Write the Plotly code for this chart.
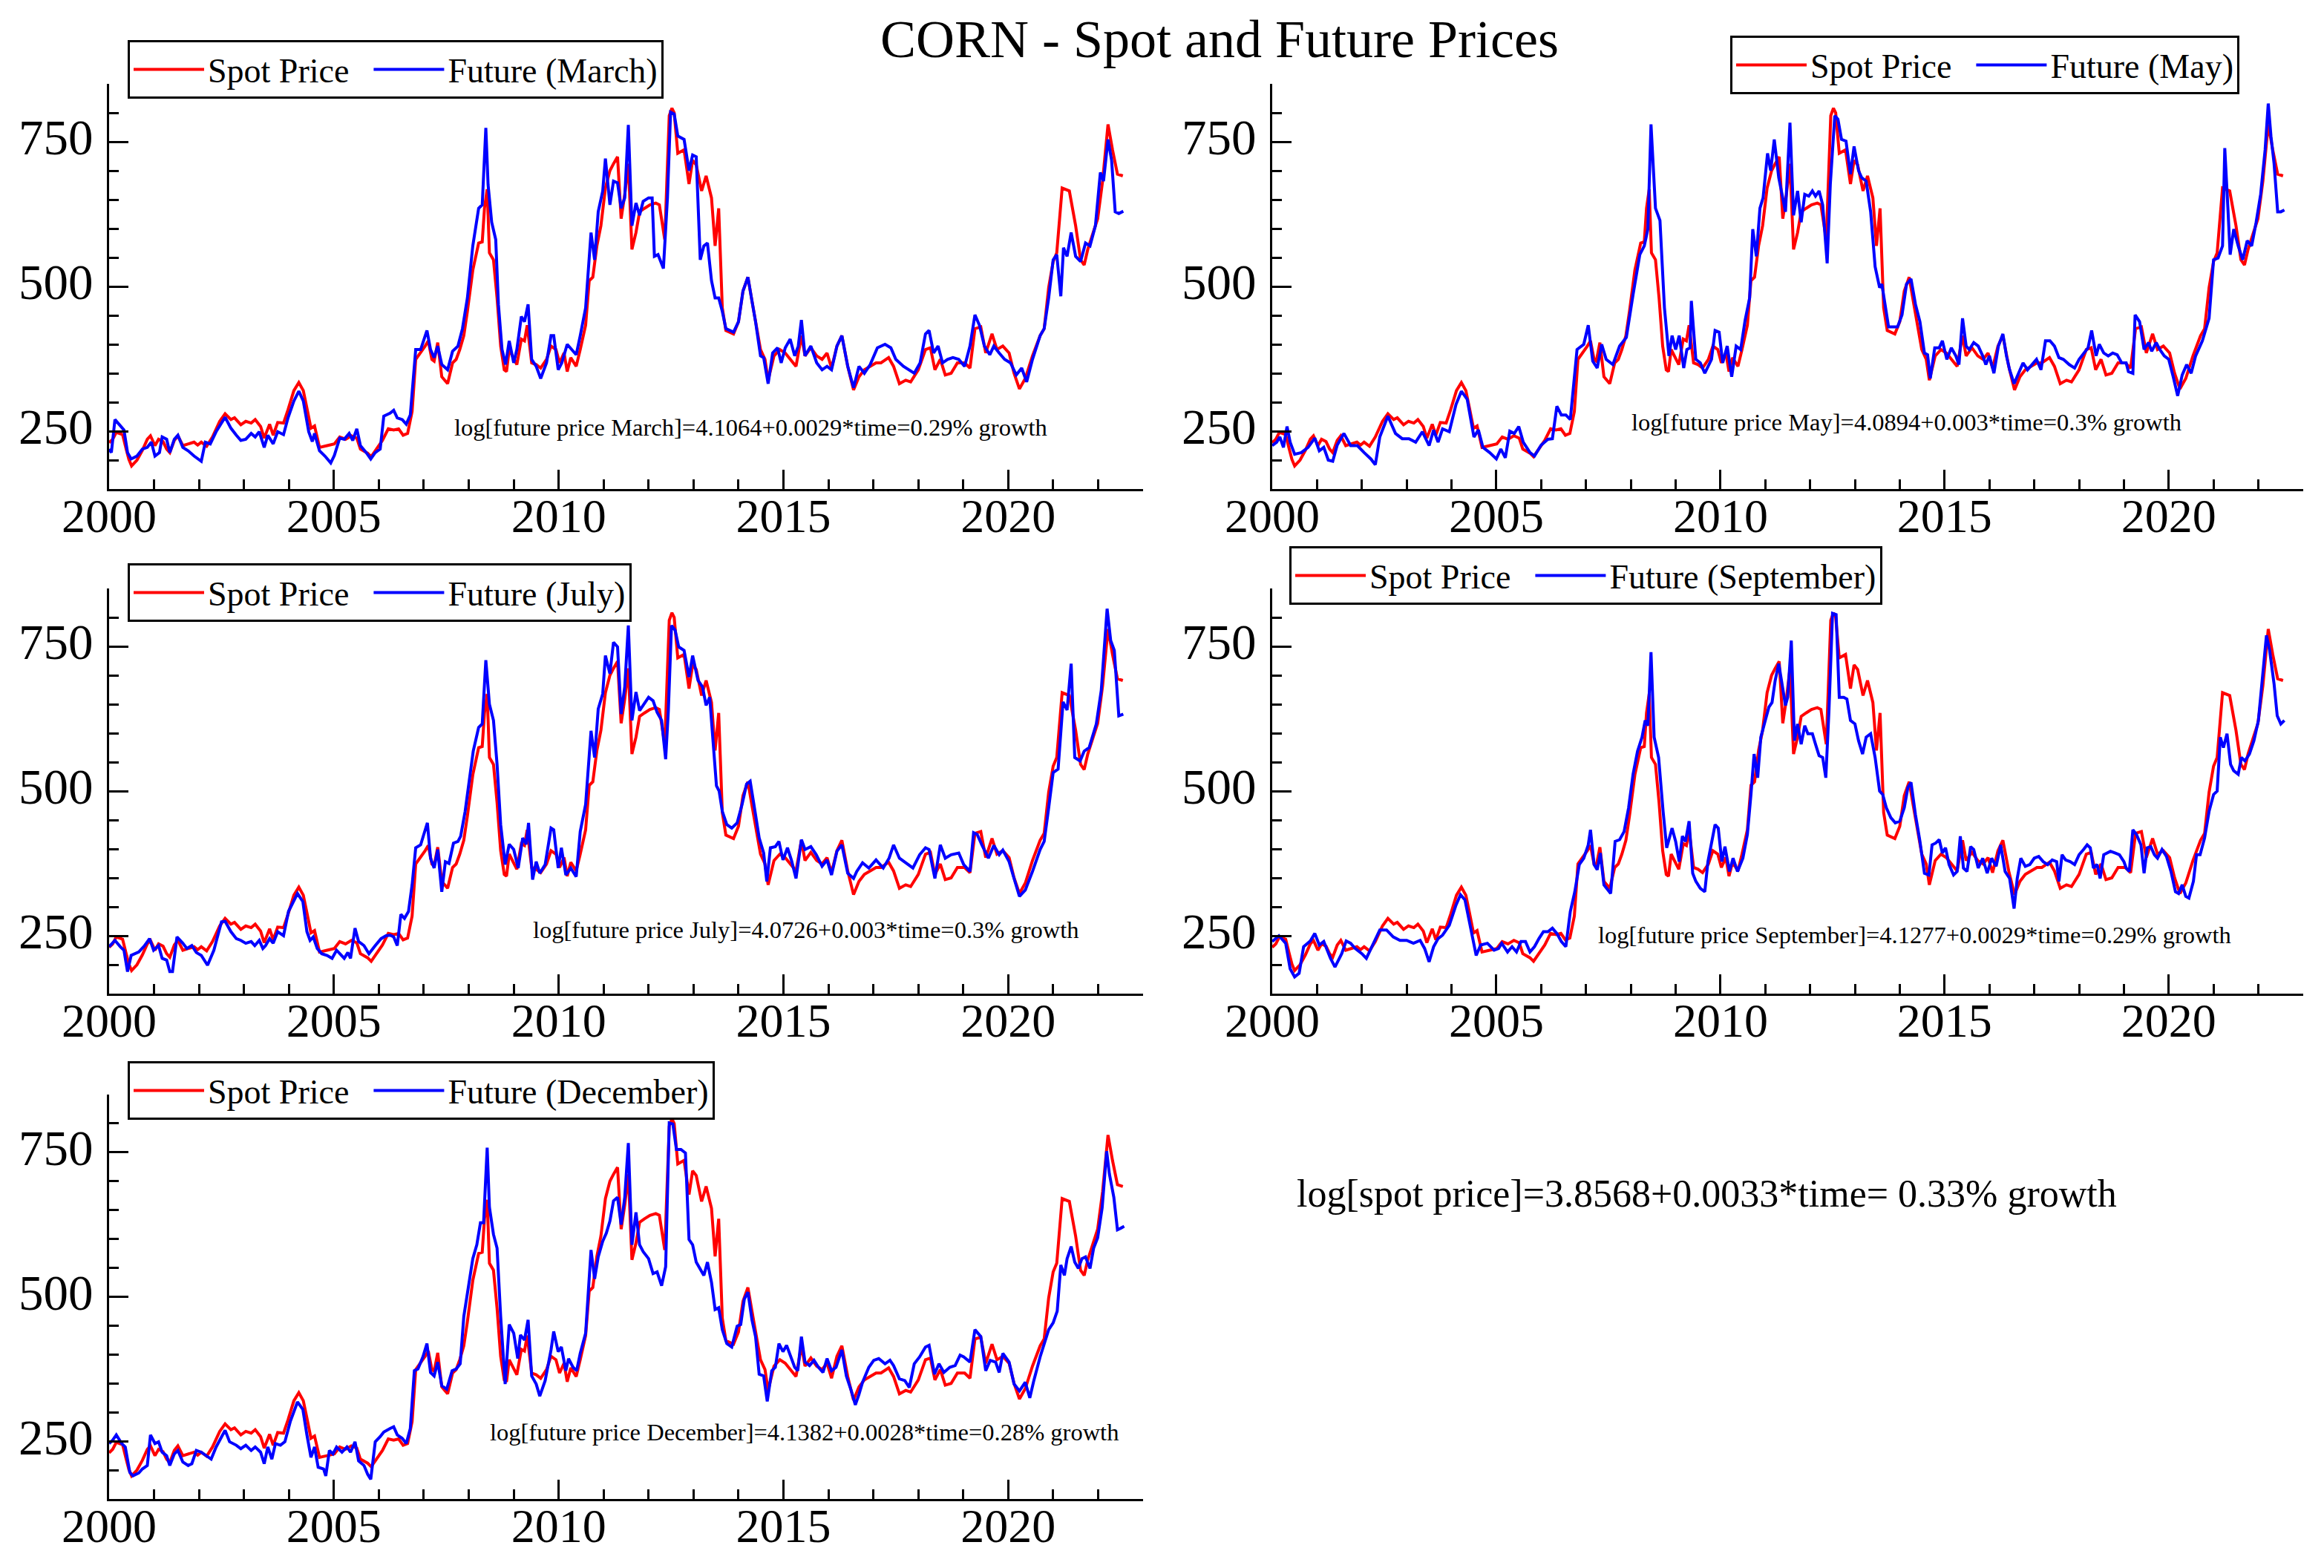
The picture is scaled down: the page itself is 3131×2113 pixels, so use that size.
import plotly.graph_objects as go
from plotly.subplots import make_subplots

FONT = "Liberation Serif"
RED = "#ff0000"
BLUE = "#0000ff"
W, H = 3131, 2113

# (decimal year, price)
spot = [
    (2000.00, 230), (2000.08, 236), (2000.16, 248), (2000.30, 244), (2000.38, 219), (2000.44, 201),
    (2000.50, 190), (2000.62, 200), (2000.74, 217), (2000.85, 236), (2000.92, 242), (2001.02, 225),
    (2001.10, 236), (2001.20, 232), (2001.28, 219), (2001.35, 213), (2001.45, 234), (2001.53, 242),
    (2001.64, 225), (2001.77, 228), (2001.89, 231), (2001.97, 226), (2002.05, 231), (2002.17, 224),
    (2002.30, 240), (2002.46, 267), (2002.58, 280), (2002.71, 270), (2002.79, 273), (2002.93, 261),
    (2003.04, 267), (2003.16, 264), (2003.25, 270), (2003.37, 258), (2003.45, 238), (2003.57, 262),
    (2003.65, 243), (2003.75, 265), (2003.88, 264), (2003.98, 287), (2004.11, 320), (2004.22, 334),
    (2004.32, 320), (2004.40, 290), (2004.49, 255), (2004.57, 259), (2004.68, 222), (2004.85, 225),
    (2005.01, 228), (2005.13, 240), (2005.26, 236), (2005.39, 242), (2005.51, 238), (2005.59, 219),
    (2005.75, 212), (2005.83, 206), (2005.97, 222), (2006.08, 234), (2006.21, 254), (2006.33, 252),
    (2006.44, 254), (2006.54, 243), (2006.64, 246), (2006.74, 284), (2006.82, 374), (2006.90, 382),
    (2007.03, 397), (2007.10, 406), (2007.18, 374), (2007.23, 371), (2007.31, 403), (2007.40, 344),
    (2007.53, 332), (2007.64, 368), (2007.72, 374), (2007.80, 391), (2007.89, 415), (2007.97, 457),
    (2008.09, 528), (2008.22, 575), (2008.30, 577), (2008.35, 635), (2008.41, 668), (2008.46, 558),
    (2008.55, 546), (2008.63, 480), (2008.71, 397), (2008.79, 356), (2008.84, 353), (2008.90, 391),
    (2009.00, 374), (2009.07, 365), (2009.17, 409), (2009.24, 406), (2009.30, 433), (2009.40, 368),
    (2009.50, 365), (2009.60, 359), (2009.73, 374), (2009.83, 397), (2009.94, 391), (2010.02, 368),
    (2010.12, 385), (2010.19, 353), (2010.27, 377), (2010.39, 362), (2010.48, 391), (2010.60, 433),
    (2010.68, 510), (2010.76, 516), (2010.85, 570), (2010.94, 605), (2011.04, 670), (2011.14, 700),
    (2011.22, 712), (2011.31, 724), (2011.39, 617), (2011.47, 659), (2011.55, 712), (2011.63, 564),
    (2011.72, 593), (2011.80, 629), (2011.91, 635), (2012.03, 641), (2012.16, 644), (2012.24, 641),
    (2012.36, 581), (2012.46, 795), (2012.52, 808), (2012.57, 800), (2012.65, 730), (2012.79, 736),
    (2012.90, 677), (2012.98, 718), (2013.06, 710), (2013.18, 665), (2013.28, 691), (2013.40, 653),
    (2013.48, 570), (2013.56, 635), (2013.64, 463), (2013.72, 424), (2013.89, 418), (2014.00, 439),
    (2014.10, 492), (2014.21, 516), (2014.30, 475), (2014.38, 439), (2014.49, 391), (2014.59, 374),
    (2014.66, 338), (2014.79, 380), (2014.92, 391), (2015.04, 385), (2015.15, 374), (2015.28, 362),
    (2015.40, 415), (2015.48, 380), (2015.61, 394), (2015.74, 380), (2015.86, 374), (2015.97, 385),
    (2016.07, 359), (2016.19, 397), (2016.30, 415), (2016.43, 362), (2016.56, 321), (2016.68, 344),
    (2016.80, 356), (2016.93, 362), (2017.06, 368), (2017.17, 368), (2017.34, 377), (2017.45, 362),
    (2017.58, 332), (2017.72, 338), (2017.83, 335), (2018.00, 356), (2018.16, 391), (2018.27, 394),
    (2018.37, 356), (2018.49, 374), (2018.60, 347), (2018.73, 350), (2018.87, 368), (2019.03, 368),
    (2019.15, 359), (2019.26, 427), (2019.39, 430), (2019.50, 385), (2019.64, 418), (2019.75, 391),
    (2019.88, 397), (2020.02, 385), (2020.13, 350), (2020.25, 323), (2020.38, 341), (2020.54, 380),
    (2020.71, 415), (2020.80, 427), (2020.90, 498), (2021.00, 543), (2021.08, 558), (2021.20, 670),
    (2021.36, 665), (2021.50, 605), (2021.61, 546), (2021.69, 537), (2021.77, 564), (2021.89, 593),
    (2021.99, 617), (2022.10, 682), (2022.22, 780), (2022.32, 736), (2022.43, 694), (2022.55, 691),
]

fut_march = [
    (2000.00, 219), (2000.05, 213), (2000.13, 270), (2000.25, 258), (2000.33, 252), (2000.41, 213),
    (2000.49, 202), (2000.62, 207), (2000.74, 219), (2000.85, 222), (2000.94, 231), (2001.02, 207),
    (2001.12, 213), (2001.18, 240), (2001.28, 236), (2001.35, 213), (2001.45, 236), (2001.53, 243),
    (2001.64, 222), (2001.76, 216), (2001.89, 207), (2002.05, 198), (2002.14, 231), (2002.25, 228),
    (2002.38, 249), (2002.58, 274), (2002.71, 255), (2002.83, 243), (2002.93, 234), (2003.04, 236),
    (2003.16, 246), (2003.25, 240), (2003.34, 249), (2003.45, 222), (2003.53, 243), (2003.65, 228),
    (2003.75, 249), (2003.88, 244), (2003.98, 273), (2004.11, 302), (2004.22, 319), (2004.32, 302),
    (2004.44, 249), (2004.52, 232), (2004.57, 246), (2004.68, 216), (2004.80, 207), (2004.93, 195),
    (2005.01, 208), (2005.13, 238), (2005.23, 236), (2005.34, 246), (2005.42, 234), (2005.51, 254),
    (2005.59, 225), (2005.72, 213), (2005.82, 202), (2005.92, 213), (2006.03, 219), (2006.11, 276),
    (2006.25, 281), (2006.33, 286), (2006.41, 273), (2006.52, 270), (2006.61, 262), (2006.70, 278),
    (2006.82, 391), (2006.93, 391), (2007.00, 406), (2007.07, 424), (2007.15, 391), (2007.23, 377),
    (2007.31, 397), (2007.40, 365), (2007.53, 356), (2007.64, 388), (2007.76, 397), (2007.86, 427),
    (2007.97, 480), (2008.09, 570), (2008.22, 635), (2008.30, 641), (2008.38, 774), (2008.43, 676),
    (2008.51, 611), (2008.60, 581), (2008.66, 469), (2008.74, 391), (2008.82, 365), (2008.90, 406),
    (2009.00, 368), (2009.07, 391), (2009.17, 448), (2009.24, 439), (2009.32, 469), (2009.40, 374),
    (2009.50, 362), (2009.60, 341), (2009.73, 368), (2009.83, 415), (2009.89, 415), (2009.99, 356),
    (2010.07, 368), (2010.19, 400), (2010.29, 391), (2010.39, 382), (2010.48, 415), (2010.60, 463),
    (2010.72, 593), (2010.80, 546), (2010.88, 629), (2010.98, 665), (2011.04, 721), (2011.14, 641),
    (2011.22, 682), (2011.31, 679), (2011.39, 635), (2011.47, 653), (2011.55, 779), (2011.63, 605),
    (2011.72, 644), (2011.80, 623), (2011.88, 647), (2012.00, 653), (2012.08, 653), (2012.13, 552),
    (2012.21, 555), (2012.33, 531), (2012.42, 653), (2012.49, 801), (2012.57, 798), (2012.65, 760),
    (2012.79, 754), (2012.90, 700), (2012.98, 727), (2013.06, 724), (2013.15, 546), (2013.23, 570),
    (2013.31, 575), (2013.40, 510), (2013.48, 480), (2013.56, 480), (2013.64, 457), (2013.72, 427),
    (2013.89, 421), (2014.00, 439), (2014.10, 492), (2014.21, 516), (2014.30, 475), (2014.38, 439),
    (2014.49, 380), (2014.56, 377), (2014.66, 332), (2014.76, 385), (2014.87, 394), (2014.95, 368),
    (2015.04, 394), (2015.15, 409), (2015.25, 380), (2015.33, 397), (2015.40, 442), (2015.48, 380),
    (2015.61, 397), (2015.74, 368), (2015.86, 356), (2015.97, 362), (2016.07, 356), (2016.19, 397),
    (2016.30, 415), (2016.43, 362), (2016.56, 325), (2016.68, 362), (2016.80, 350), (2016.93, 365),
    (2017.09, 394), (2017.26, 400), (2017.39, 394), (2017.50, 374), (2017.67, 362), (2017.78, 356),
    (2017.91, 350), (2018.04, 368), (2018.16, 418), (2018.24, 424), (2018.34, 385), (2018.44, 397),
    (2018.54, 368), (2018.65, 374), (2018.77, 377), (2018.90, 374), (2019.03, 362), (2019.15, 397),
    (2019.26, 451), (2019.36, 433), (2019.47, 397), (2019.59, 382), (2019.68, 397), (2019.80, 385),
    (2019.92, 374), (2020.05, 368), (2020.18, 347), (2020.30, 359), (2020.41, 335), (2020.54, 374),
    (2020.71, 415), (2020.80, 427), (2020.90, 480), (2021.00, 546), (2021.08, 555), (2021.17, 483),
    (2021.23, 567), (2021.31, 552), (2021.40, 593), (2021.50, 552), (2021.61, 543), (2021.72, 575),
    (2021.82, 570), (2021.94, 605), (2022.05, 697), (2022.12, 682), (2022.22, 754), (2022.30, 718),
    (2022.38, 629), (2022.46, 626), (2022.56, 630),
]

fut_may = [
    (2000.00, 225), (2000.10, 231), (2000.17, 240), (2000.25, 222), (2000.33, 258), (2000.40, 231),
    (2000.50, 210), (2000.65, 213), (2000.80, 222), (2000.95, 238), (2001.05, 216), (2001.15, 222),
    (2001.25, 200), (2001.35, 198), (2001.45, 226), (2001.60, 246), (2001.75, 225), (2001.90, 225),
    (2002.05, 213), (2002.20, 202), (2002.30, 192), (2002.40, 240), (2002.58, 276), (2002.75, 246),
    (2002.90, 237), (2003.05, 237), (2003.20, 231), (2003.35, 249), (2003.50, 225), (2003.60, 252),
    (2003.70, 231), (2003.80, 254), (2003.95, 249), (2004.10, 296), (2004.22, 319), (2004.35, 305),
    (2004.50, 240), (2004.60, 252), (2004.70, 222), (2004.85, 213), (2005.00, 202), (2005.10, 219),
    (2005.20, 204), (2005.30, 250), (2005.40, 246), (2005.50, 258), (2005.60, 231), (2005.75, 213),
    (2005.85, 207), (2006.00, 226), (2006.15, 236), (2006.25, 237), (2006.35, 293), (2006.45, 278),
    (2006.55, 278), (2006.65, 270), (2006.80, 391), (2006.95, 400), (2007.05, 433), (2007.15, 371),
    (2007.25, 359), (2007.35, 400), (2007.45, 374), (2007.60, 365), (2007.75, 397), (2007.90, 412),
    (2008.05, 486), (2008.20, 555), (2008.30, 570), (2008.38, 599), (2008.45, 780), (2008.55, 635),
    (2008.65, 614), (2008.75, 463), (2008.85, 380), (2008.92, 415), (2009.00, 391), (2009.08, 415),
    (2009.18, 359), (2009.25, 391), (2009.32, 394), (2009.35, 475), (2009.45, 374), (2009.55, 368),
    (2009.65, 350), (2009.80, 374), (2009.88, 424), (2009.97, 421), (2010.05, 368), (2010.15, 397),
    (2010.25, 344), (2010.35, 397), (2010.45, 391), (2010.55, 442), (2010.65, 480), (2010.72, 599),
    (2010.80, 552), (2010.88, 635), (2010.95, 653), (2011.05, 730), (2011.12, 700), (2011.20, 754),
    (2011.30, 688), (2011.38, 659), (2011.45, 629), (2011.55, 783), (2011.63, 623), (2011.72, 665),
    (2011.80, 611), (2011.88, 659), (2011.97, 656), (2012.05, 665), (2012.12, 656), (2012.20, 665),
    (2012.28, 641), (2012.38, 540), (2012.45, 676), (2012.55, 795), (2012.62, 789), (2012.70, 754),
    (2012.80, 751), (2012.90, 694), (2012.98, 742), (2013.08, 700), (2013.15, 688), (2013.25, 682),
    (2013.35, 629), (2013.45, 534), (2013.55, 498), (2013.60, 504), (2013.68, 463), (2013.75, 430),
    (2013.85, 430), (2013.95, 430), (2014.05, 451), (2014.15, 504), (2014.25, 513), (2014.35, 469),
    (2014.45, 439), (2014.55, 385), (2014.62, 382), (2014.68, 341), (2014.78, 394), (2014.88, 394),
    (2014.95, 406), (2015.05, 374), (2015.15, 394), (2015.25, 380), (2015.32, 365), (2015.40, 445),
    (2015.48, 397), (2015.55, 391), (2015.65, 403), (2015.75, 397), (2015.85, 380), (2015.92, 365),
    (2016.00, 380), (2016.10, 350), (2016.20, 397), (2016.30, 418), (2016.38, 380), (2016.45, 356),
    (2016.55, 332), (2016.65, 350), (2016.75, 368), (2016.85, 356), (2016.95, 365), (2017.05, 374),
    (2017.15, 356), (2017.25, 406), (2017.35, 406), (2017.45, 397), (2017.55, 377), (2017.65, 374),
    (2017.78, 365), (2017.90, 359), (2018.00, 374), (2018.10, 385), (2018.20, 394), (2018.28, 424),
    (2018.38, 380), (2018.45, 400), (2018.55, 385), (2018.65, 380), (2018.75, 385), (2018.85, 382),
    (2018.95, 368), (2019.05, 368), (2019.10, 353), (2019.20, 350), (2019.25, 451), (2019.35, 439),
    (2019.45, 391), (2019.55, 403), (2019.62, 388), (2019.72, 403), (2019.80, 391), (2019.90, 380),
    (2020.00, 374), (2020.10, 344), (2020.20, 311), (2020.30, 347), (2020.40, 365), (2020.50, 350),
    (2020.60, 380), (2020.75, 406), (2020.90, 445), (2021.00, 546), (2021.10, 549), (2021.20, 570),
    (2021.25, 739), (2021.32, 635), (2021.37, 555), (2021.45, 599), (2021.55, 570), (2021.65, 546),
    (2021.75, 579), (2021.85, 570), (2021.95, 611), (2022.05, 659), (2022.15, 736), (2022.22, 816),
    (2022.28, 760), (2022.35, 712), (2022.43, 629), (2022.50, 629), (2022.58, 632),
]

fut_july = [
    (2000.00, 231), (2000.13, 242), (2000.25, 231), (2000.33, 225), (2000.41, 188), (2000.49, 216),
    (2000.66, 222), (2000.79, 233), (2000.90, 245), (2000.99, 225), (2001.10, 233), (2001.18, 211),
    (2001.28, 208), (2001.35, 188), (2001.41, 188), (2001.51, 248), (2001.64, 237), (2001.73, 228),
    (2001.84, 233), (2001.94, 221), (2002.05, 216), (2002.19, 199), (2002.33, 225), (2002.50, 274),
    (2002.58, 275), (2002.71, 257), (2002.83, 245), (2002.93, 242), (2003.04, 237), (2003.16, 240),
    (2003.24, 233), (2003.34, 242), (2003.42, 228), (2003.48, 233), (2003.57, 245), (2003.65, 237),
    (2003.75, 257), (2003.88, 250), (2003.99, 292), (2004.11, 309), (2004.19, 323), (2004.31, 309),
    (2004.40, 257), (2004.47, 242), (2004.54, 248), (2004.63, 228), (2004.73, 219), (2004.85, 216),
    (2004.96, 211), (2005.06, 225), (2005.16, 216), (2005.23, 211), (2005.31, 221), (2005.37, 211),
    (2005.47, 263), (2005.55, 240), (2005.67, 233), (2005.78, 219), (2005.92, 233), (2006.05, 245),
    (2006.16, 250), (2006.25, 251), (2006.33, 248), (2006.41, 233), (2006.49, 287), (2006.57, 280),
    (2006.66, 292), (2006.74, 338), (2006.82, 402), (2006.93, 407), (2007.00, 425), (2007.08, 445),
    (2007.15, 384), (2007.23, 367), (2007.31, 399), (2007.40, 326), (2007.48, 378), (2007.56, 375),
    (2007.66, 410), (2007.76, 413), (2007.82, 422), (2007.92, 465), (2008.02, 523), (2008.10, 569),
    (2008.22, 610), (2008.30, 616), (2008.38, 726), (2008.46, 650), (2008.55, 622), (2008.63, 546),
    (2008.71, 442), (2008.81, 373), (2008.90, 408), (2009.00, 399), (2009.10, 367), (2009.20, 419),
    (2009.28, 408), (2009.33, 445), (2009.42, 347), (2009.50, 378), (2009.58, 358), (2009.70, 373),
    (2009.83, 436), (2009.89, 433), (2009.99, 367), (2010.06, 402), (2010.16, 355), (2010.27, 367),
    (2010.39, 352), (2010.48, 430), (2010.60, 477), (2010.72, 604), (2010.80, 558), (2010.88, 642),
    (2010.98, 668), (2011.04, 734), (2011.14, 703), (2011.22, 757), (2011.31, 749), (2011.39, 633),
    (2011.47, 680), (2011.55, 786), (2011.63, 622), (2011.72, 671), (2011.80, 639), (2011.88, 648),
    (2012.00, 662), (2012.10, 656), (2012.19, 636), (2012.29, 622), (2012.38, 555), (2012.44, 639),
    (2012.51, 786), (2012.59, 778), (2012.67, 749), (2012.79, 743), (2012.90, 697), (2012.98, 734),
    (2013.10, 691), (2013.20, 680), (2013.28, 648), (2013.36, 662), (2013.44, 581), (2013.51, 509),
    (2013.57, 500), (2013.64, 465), (2013.74, 442), (2013.85, 436), (2013.97, 445), (2014.08, 477),
    (2014.18, 512), (2014.26, 517), (2014.38, 459), (2014.46, 419), (2014.56, 393), (2014.63, 344),
    (2014.71, 402), (2014.82, 404), (2014.90, 413), (2014.99, 381), (2015.09, 402), (2015.18, 380),
    (2015.28, 349), (2015.40, 416), (2015.48, 399), (2015.61, 404), (2015.73, 390), (2015.86, 370),
    (2015.97, 381), (2016.07, 355), (2016.19, 396), (2016.30, 407), (2016.43, 358), (2016.56, 349),
    (2016.63, 361), (2016.76, 376), (2016.90, 367), (2017.06, 381), (2017.22, 367), (2017.35, 384),
    (2017.45, 407), (2017.58, 384), (2017.72, 376), (2017.88, 367), (2018.03, 390), (2018.16, 402),
    (2018.24, 399), (2018.37, 349), (2018.49, 407), (2018.60, 384), (2018.73, 390), (2018.90, 393),
    (2019.01, 373), (2019.15, 361), (2019.23, 428), (2019.31, 425), (2019.42, 406), (2019.56, 384),
    (2019.68, 406), (2019.80, 390), (2019.88, 398), (2020.02, 378), (2020.13, 349), (2020.25, 318),
    (2020.38, 329), (2020.54, 361), (2020.71, 399), (2020.80, 413), (2020.90, 471), (2021.00, 532),
    (2021.11, 538), (2021.22, 654), (2021.31, 640), (2021.40, 720), (2021.48, 558), (2021.60, 552),
    (2021.69, 569), (2021.80, 575), (2021.96, 616), (2022.07, 674), (2022.20, 815), (2022.28, 760),
    (2022.36, 743), (2022.46, 630), (2022.56, 633),
]

fut_september = [
    (2000.00, 240), (2000.15, 250), (2000.30, 237), (2000.40, 193), (2000.50, 179), (2000.60, 185),
    (2000.70, 231), (2000.85, 241), (2000.95, 254), (2001.05, 234), (2001.15, 240), (2001.30, 211),
    (2001.40, 196), (2001.55, 219), (2001.65, 241), (2001.75, 237), (2001.85, 228), (2002.00, 219),
    (2002.10, 211), (2002.25, 237), (2002.40, 260), (2002.55, 260), (2002.70, 248), (2002.85, 242),
    (2003.00, 242), (2003.15, 237), (2003.30, 242), (2003.40, 228), (2003.50, 205), (2003.60, 231),
    (2003.70, 245), (2003.80, 251), (2003.95, 268), (2004.10, 303), (2004.20, 321), (2004.30, 312),
    (2004.45, 257), (2004.55, 216), (2004.65, 234), (2004.80, 237), (2004.95, 225), (2005.05, 228),
    (2005.12, 237), (2005.25, 222), (2005.35, 231), (2005.45, 222), (2005.55, 240), (2005.65, 240),
    (2005.75, 222), (2005.85, 231), (2005.95, 245), (2006.05, 257), (2006.15, 257), (2006.25, 263),
    (2006.35, 254), (2006.45, 240), (2006.55, 231), (2006.65, 292), (2006.75, 326), (2006.85, 373),
    (2006.95, 384), (2007.05, 407), (2007.10, 433), (2007.18, 373), (2007.25, 364), (2007.32, 393),
    (2007.40, 338), (2007.50, 329), (2007.55, 323), (2007.65, 413), (2007.75, 416), (2007.85, 430),
    (2007.95, 471), (2008.05, 529), (2008.15, 569), (2008.25, 593), (2008.32, 622), (2008.38, 613),
    (2008.45, 740), (2008.52, 593), (2008.62, 558), (2008.72, 465), (2008.80, 402), (2008.85, 416),
    (2008.92, 436), (2009.00, 413), (2009.08, 378), (2009.15, 422), (2009.22, 413), (2009.30, 448),
    (2009.38, 358), (2009.45, 344), (2009.55, 332), (2009.65, 326), (2009.72, 378), (2009.80, 410),
    (2009.88, 442), (2009.95, 436), (2010.03, 378), (2010.10, 404), (2010.20, 361), (2010.28, 384),
    (2010.38, 361), (2010.50, 384), (2010.60, 425), (2010.68, 494), (2010.75, 564), (2010.83, 523),
    (2010.90, 593), (2011.00, 622), (2011.08, 645), (2011.15, 653), (2011.22, 691), (2011.30, 720),
    (2011.38, 685), (2011.45, 648), (2011.50, 662), (2011.58, 760), (2011.65, 587), (2011.72, 616),
    (2011.80, 581), (2011.88, 613), (2011.95, 599), (2012.05, 599), (2012.12, 581), (2012.20, 561),
    (2012.28, 558), (2012.35, 523), (2012.42, 639), (2012.50, 807), (2012.58, 805), (2012.65, 662),
    (2012.75, 662), (2012.82, 659), (2012.90, 622), (2013.00, 616), (2013.08, 587), (2013.17, 564),
    (2013.25, 593), (2013.35, 599), (2013.45, 558), (2013.55, 500), (2013.62, 494), (2013.70, 471),
    (2013.80, 454), (2013.90, 445), (2014.00, 448), (2014.10, 471), (2014.18, 506), (2014.25, 515),
    (2014.35, 459), (2014.45, 413), (2014.55, 358), (2014.65, 355), (2014.72, 407), (2014.80, 410),
    (2014.88, 416), (2014.95, 393), (2015.02, 402), (2015.10, 373), (2015.20, 355), (2015.28, 361),
    (2015.35, 422), (2015.42, 367), (2015.50, 361), (2015.58, 404), (2015.65, 399), (2015.75, 367),
    (2015.85, 384), (2015.95, 358), (2016.05, 384), (2016.15, 370), (2016.25, 407), (2016.35, 361),
    (2016.45, 349), (2016.55, 297), (2016.62, 349), (2016.70, 384), (2016.80, 370), (2016.90, 373),
    (2017.00, 384), (2017.10, 387), (2017.20, 378), (2017.30, 373), (2017.40, 381), (2017.50, 378),
    (2017.55, 344), (2017.62, 390), (2017.70, 381), (2017.80, 378), (2017.90, 373), (2018.00, 390),
    (2018.10, 399), (2018.18, 407), (2018.25, 402), (2018.32, 367), (2018.40, 373), (2018.47, 349),
    (2018.55, 390), (2018.62, 393), (2018.70, 396), (2018.80, 393), (2018.90, 390), (2019.00, 378),
    (2019.05, 367), (2019.12, 361), (2019.20, 433), (2019.28, 425), (2019.38, 407), (2019.45, 358),
    (2019.52, 402), (2019.60, 404), (2019.68, 390), (2019.75, 384), (2019.85, 399), (2019.95, 387),
    (2020.05, 361), (2020.15, 326), (2020.22, 323), (2020.30, 338), (2020.38, 318), (2020.45, 315),
    (2020.55, 344), (2020.62, 390), (2020.70, 390), (2020.80, 419), (2020.90, 465), (2021.00, 494),
    (2021.08, 500), (2021.15, 593), (2021.22, 575), (2021.30, 599), (2021.38, 546), (2021.45, 535),
    (2021.55, 529), (2021.62, 558), (2021.70, 552), (2021.80, 564), (2021.90, 587), (2022.00, 622),
    (2022.10, 697), (2022.18, 769), (2022.25, 743), (2022.35, 685), (2022.42, 630), (2022.50, 616),
    (2022.58, 622),
]

fut_december = [
    (2000.00, 246), (2000.08, 252), (2000.16, 261), (2000.28, 246), (2000.36, 240), (2000.46, 196),
    (2000.53, 190), (2000.66, 195), (2000.74, 202), (2000.85, 208), (2000.92, 261), (2001.02, 246),
    (2001.10, 249), (2001.18, 231), (2001.28, 225), (2001.35, 208), (2001.45, 228), (2001.53, 234),
    (2001.64, 214), (2001.76, 208), (2001.84, 211), (2001.94, 234), (2002.05, 231), (2002.17, 225),
    (2002.27, 219), (2002.38, 240), (2002.58, 269), (2002.68, 249), (2002.83, 243), (2002.93, 237),
    (2003.04, 243), (2003.16, 234), (2003.25, 240), (2003.37, 231), (2003.45, 211), (2003.53, 240),
    (2003.62, 219), (2003.70, 246), (2003.81, 243), (2003.91, 249), (2004.03, 284), (2004.19, 318),
    (2004.31, 305), (2004.40, 261), (2004.49, 222), (2004.57, 240), (2004.65, 205), (2004.77, 202),
    (2004.82, 190), (2004.90, 234), (2004.98, 228), (2005.06, 240), (2005.18, 231), (2005.29, 240),
    (2005.37, 231), (2005.47, 249), (2005.55, 216), (2005.67, 208), (2005.75, 193), (2005.82, 184),
    (2005.92, 249), (2006.03, 258), (2006.11, 266), (2006.25, 272), (2006.33, 275), (2006.41, 261),
    (2006.52, 255), (2006.61, 246), (2006.70, 272), (2006.79, 372), (2006.87, 375), (2006.98, 396),
    (2007.07, 419), (2007.15, 369), (2007.23, 363), (2007.31, 387), (2007.40, 346), (2007.51, 340),
    (2007.63, 372), (2007.72, 375), (2007.81, 384), (2007.89, 466), (2007.97, 508), (2008.09, 566),
    (2008.18, 590), (2008.26, 628), (2008.33, 628), (2008.41, 758), (2008.46, 655), (2008.55, 608),
    (2008.63, 584), (2008.71, 466), (2008.81, 349), (2008.90, 452), (2009.00, 437), (2009.09, 393),
    (2009.15, 434), (2009.24, 425), (2009.32, 460), (2009.40, 363), (2009.50, 349), (2009.58, 328),
    (2009.70, 355), (2009.83, 408), (2009.89, 440), (2009.99, 405), (2010.06, 413), (2010.16, 372),
    (2010.22, 393), (2010.32, 378), (2010.40, 372), (2010.48, 402), (2010.60, 437), (2010.72, 581),
    (2010.80, 531), (2010.88, 569), (2010.98, 596), (2011.06, 610), (2011.14, 631), (2011.22, 666),
    (2011.31, 672), (2011.39, 625), (2011.47, 672), (2011.55, 766), (2011.63, 590), (2011.72, 646),
    (2011.80, 590), (2011.88, 578), (2012.00, 566), (2012.10, 540), (2012.19, 543), (2012.29, 519),
    (2012.38, 552), (2012.46, 801), (2012.54, 799), (2012.62, 755), (2012.72, 755), (2012.82, 749),
    (2012.90, 599), (2012.98, 590), (2013.06, 560), (2013.15, 549), (2013.23, 537), (2013.31, 560),
    (2013.40, 525), (2013.48, 478), (2013.56, 481), (2013.64, 443), (2013.74, 419), (2013.85, 413),
    (2013.97, 449), (2014.05, 452), (2014.13, 496), (2014.21, 508), (2014.30, 460), (2014.38, 431),
    (2014.46, 366), (2014.56, 363), (2014.64, 319), (2014.74, 372), (2014.82, 378), (2014.90, 419),
    (2014.99, 405), (2015.07, 416), (2015.17, 396), (2015.25, 378), (2015.32, 372), (2015.40, 431),
    (2015.48, 387), (2015.58, 381), (2015.68, 390), (2015.78, 378), (2015.88, 369), (2015.97, 393),
    (2016.07, 372), (2016.17, 378), (2016.30, 408), (2016.40, 363), (2016.51, 337), (2016.60, 313),
    (2016.68, 331), (2016.76, 352), (2016.90, 378), (2017.01, 390), (2017.12, 393), (2017.26, 384),
    (2017.37, 390), (2017.45, 381), (2017.58, 358), (2017.70, 355), (2017.80, 343), (2017.91, 384),
    (2018.03, 396), (2018.16, 413), (2018.24, 416), (2018.36, 366), (2018.46, 384), (2018.57, 369),
    (2018.70, 378), (2018.82, 381), (2018.93, 399), (2019.01, 396), (2019.15, 387), (2019.26, 443),
    (2019.39, 431), (2019.50, 372), (2019.60, 390), (2019.72, 387), (2019.80, 369), (2019.88, 402),
    (2020.02, 387), (2020.13, 349), (2020.25, 337), (2020.38, 352), (2020.48, 325), (2020.57, 355),
    (2020.71, 396), (2020.80, 419), (2020.90, 443), (2021.00, 455), (2021.09, 475), (2021.17, 555),
    (2021.25, 537), (2021.31, 566), (2021.40, 587), (2021.48, 560), (2021.56, 549), (2021.64, 566),
    (2021.72, 569), (2021.82, 549), (2021.90, 584), (2021.99, 602), (2022.09, 654), (2022.19, 752),
    (2022.25, 713), (2022.35, 672), (2022.43, 616), (2022.51, 619), (2022.58, 622),
]

contracts = ["March", "May", "July", "September", "December"]
futures = [fut_march, fut_may, fut_july, fut_september, fut_december]
fit_labels = [
    "log[future price March]=4.1064+0.0029*time=0.29% growth",
    "log[future price May]=4.0894+0.003*time=0.3% growth",
    "log[future price July]=4.0726+0.003*time=0.3% growth",
    "log[future price September]=4.1277+0.0029*time=0.29% growth",
    "log[future price December]=4.1382+0.0028*time=0.28% growth",
]
spot_fit_label = "log[spot price]=3.8568+0.0033*time= 0.33% growth"
year_ticks = [2000, 2005, 2010, 2015, 2020]
price_ticks = [250, 500, 750]

# layout in pixels of the 3131x2113 page
cells = [(1, 1), (1, 2), (2, 1), (2, 2), (3, 1)]
col_px = {1: (139, 1532), 2: (1706, 3095)}
row_px = {1: (105, 651), 2: (785, 1331), 3: (1467, 2012)}
legend_px = [(164, 46, "left"), (3009, 40, "right"), (164, 751, "left"), (1729, 728, "left"), (164, 1422, "left")]
fit_px = [(1003, 568), (2560, 561), (1078, 1245), (2571, 1252), (1075, 1922)]

fig = make_subplots(rows=3, cols=2, specs=[[{}, {}], [{}, {}], [{}, None]])

spot_t = [p[0] for p in spot]
spot_v = [p[1] for p in spot]

annotations = []
for i, (name, fut) in enumerate(zip(contracts, futures)):
    row, col = cells[i]
    leg = "legend" if i == 0 else f"legend{i + 1}"
    # trailing no-break spaces widen the gap before the second legend entry
    fig.add_trace(
        go.Scatter(x=spot_t, y=spot_v, mode="lines", name="Spot Price\u00a0\u00a0",
                   line=dict(color=RED, width=4), legend=leg),
        row=row, col=col,
    )
    fig.add_trace(
        go.Scatter(x=[p[0] for p in fut], y=[p[1] for p in fut], mode="lines",
                   name=f"Future ({name})", line=dict(color=BLUE, width=4), legend=leg),
        row=row, col=col,
    )
    lx, ly, anchor = legend_px[i]
    fig.update_layout({
        leg: dict(
            orientation="h", x=lx / W, y=1 - ly / H, xanchor=anchor, yanchor="top",
            bgcolor="white", bordercolor="black", borderwidth=3,
            font=dict(family=FONT, size=46, color="black"),
            itemwidth=95, tracegroupgap=0,
        )
    })
    ax, ay = fit_px[i]
    annotations.append(dict(
        text=fit_labels[i], x=ax / W, y=1 - ay / H, xref="paper", yref="paper",
        showarrow=False, xanchor="center", yanchor="middle",
        font=dict(family=FONT, size=32.5, color="black"),
    ))

annotations.append(dict(
    text=spot_fit_label, x=2291 / W, y=1 - 1600 / H, xref="paper", yref="paper",
    showarrow=False, xanchor="center", yanchor="middle",
    font=dict(family=FONT, size=52, color="black"),
))

axis_common = dict(
    ticks="inside", tickwidth=3, tickcolor="black", showline=True, linewidth=3,
    linecolor="black", showgrid=False, zeroline=False, mirror=False, automargin=False,
)

for i in range(5):
    row, col = cells[i]
    x0, x1 = col_px[col]
    y0, y1 = row_px[row]
    fig.update_xaxes(
        domain=[x0 / W, x1 / W], range=[2000, 2023], tickmode="array", tickvals=year_ticks,
        ticklen=26, ticklabelstandoff=-22,
        tickfont=dict(family=FONT, size=64, color="black"),
        minor=dict(dtick=1, tick0=2000, ticks="inside", ticklen=13, tickwidth=3,
                   tickcolor="black", showgrid=False),
        row=row, col=col, **axis_common,
    )
    fig.update_yaxes(
        domain=[1 - y1 / H, 1 - y0 / H], range=[150, 850], tickmode="array", tickvals=price_ticks,
        ticklen=26, ticklabelshift=-6, ticklabelstandoff=5,
        tickfont=dict(family=FONT, size=67, color="black"),
        minor=dict(dtick=50, tick0=0, ticks="inside", ticklen=13, tickwidth=3,
                   tickcolor="black", showgrid=False),
        row=row, col=col, **axis_common,
    )

fig.update_layout(
    template="none",
    width=W, height=H,
    margin=dict(l=0, r=0, t=0, b=0, autoexpand=False),
    paper_bgcolor="white", plot_bgcolor="white",
    title=dict(text="CORN - Spot and Future Prices", x=1635 / W, xanchor="center",
               y=1 - 44 / H, yanchor="middle", yref="container",
               font=dict(family=FONT, size=72, color="black")),
    annotations=annotations,
    font=dict(family=FONT, color="black"),
)

fig.write_html("out.html")
